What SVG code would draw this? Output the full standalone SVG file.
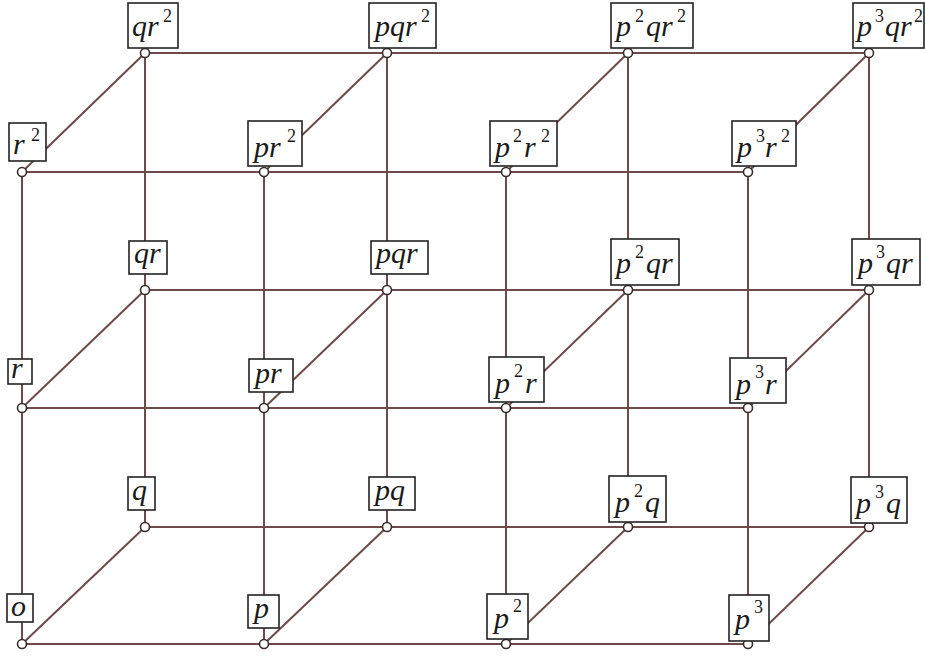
<svg xmlns="http://www.w3.org/2000/svg" width="925" height="659" viewBox="0 0 925 659">
<style>
.e{stroke:#6e4a4a;stroke-width:2;fill:none;stroke-linecap:round}
.b{fill:#fff;stroke:#222;stroke-width:1.6}
.c{fill:#fff;stroke:#3b2b2b;stroke-width:1.6}
.t{font-family:"Liberation Serif","Times New Roman",serif;font-style:italic;font-size:30px;fill:#1a1a1a}
.s{font-family:"Liberation Serif","Times New Roman",serif;font-style:normal;font-size:18px;fill:#1a1a1a}
</style>
<rect width="925" height="659" fill="#fff"/>
<g id="connectors">
<line class="e" x1="22" y1="644" x2="264" y2="644"/><line class="e" x1="264" y1="644" x2="506" y2="644"/><line class="e" x1="506" y1="644" x2="748" y2="644"/>
<line class="e" x1="22" y1="408" x2="264" y2="408"/><line class="e" x1="264" y1="408" x2="506" y2="408"/><line class="e" x1="506" y1="408" x2="748" y2="408"/>
<line class="e" x1="22" y1="172" x2="264" y2="172"/><line class="e" x1="264" y1="172" x2="506" y2="172"/><line class="e" x1="506" y1="172" x2="748" y2="172"/>
<line class="e" x1="145" y1="527" x2="387" y2="527"/><line class="e" x1="387" y1="527" x2="628" y2="527"/><line class="e" x1="628" y1="527" x2="869" y2="527"/>
<line class="e" x1="145" y1="290" x2="387" y2="290"/><line class="e" x1="387" y1="290" x2="628" y2="290"/><line class="e" x1="628" y1="290" x2="869" y2="290"/>
<line class="e" x1="145" y1="53" x2="387" y2="53"/><line class="e" x1="387" y1="53" x2="628" y2="53"/><line class="e" x1="628" y1="53" x2="869" y2="53"/>
<line class="e" x1="22" y1="644" x2="22" y2="408"/><line class="e" x1="22" y1="408" x2="22" y2="172"/>
<line class="e" x1="264" y1="644" x2="264" y2="408"/><line class="e" x1="264" y1="408" x2="264" y2="172"/>
<line class="e" x1="506" y1="644" x2="506" y2="408"/><line class="e" x1="506" y1="408" x2="506" y2="172"/>
<line class="e" x1="748" y1="644" x2="748" y2="408"/><line class="e" x1="748" y1="408" x2="748" y2="172"/>
<line class="e" x1="145" y1="527" x2="145" y2="290"/><line class="e" x1="145" y1="290" x2="145" y2="53"/>
<line class="e" x1="387" y1="527" x2="387" y2="290"/><line class="e" x1="387" y1="290" x2="387" y2="53"/>
<line class="e" x1="628" y1="527" x2="628" y2="290"/><line class="e" x1="628" y1="290" x2="628" y2="53"/>
<line class="e" x1="869" y1="527" x2="869" y2="290"/><line class="e" x1="869" y1="290" x2="869" y2="53"/>
<line class="e" x1="22" y1="644" x2="145" y2="527"/><line class="e" x1="264" y1="644" x2="387" y2="527"/>
<line class="e" x1="506" y1="644" x2="628" y2="527"/><line class="e" x1="748" y1="644" x2="869" y2="527"/>
<line class="e" x1="22" y1="408" x2="145" y2="290"/><line class="e" x1="264" y1="408" x2="387" y2="290"/>
<line class="e" x1="506" y1="408" x2="628" y2="290"/><line class="e" x1="748" y1="408" x2="869" y2="290"/>
<line class="e" x1="22" y1="172" x2="145" y2="53"/><line class="e" x1="264" y1="172" x2="387" y2="53"/>
<line class="e" x1="506" y1="172" x2="628" y2="53"/><line class="e" x1="748" y1="172" x2="869" y2="53"/>
</g>
<g id="n-o"><circle class="c" cx="22" cy="644" r="4.5"/><rect class="b" x="7" y="594" width="26" height="28"/><text class="t" x="11" y="616">o</text></g>
<g id="n-p"><circle class="c" cx="264" cy="644" r="4.5"/><rect class="b" x="248" y="595" width="31" height="33"/><text class="t" x="254" y="618">p</text></g>
<g id="n-p2"><circle class="c" cx="506" cy="644" r="4.5"/><rect class="b" x="487" y="594" width="41" height="45"/><text class="t" x="494" y="628">p</text><text class="s" x="513" y="612">2</text></g>
<g id="n-p3"><circle class="c" cx="748" cy="644" r="4.5"/><rect class="b" x="729" y="595" width="40" height="46"/><text class="t" x="735" y="629">p</text><text class="s" x="754" y="613">3</text></g>
<g id="n-r"><circle class="c" cx="22" cy="408" r="4.5"/><rect class="b" x="8" y="359" width="24" height="25"/><text class="t" x="11" y="378">r</text></g>
<g id="n-pr"><circle class="c" cx="264" cy="408" r="4.5"/><rect class="b" x="249" y="359" width="44" height="33"/><text class="t" x="255" y="383">pr</text></g>
<g id="n-p2r"><circle class="c" cx="506" cy="408" r="4.5"/><rect class="b" x="489" y="357" width="55" height="45"/><text class="t" x="495" y="393">p</text><text class="s" x="514" y="377">2</text><text class="t" x="525" y="393">r</text></g>
<g id="n-p3r"><circle class="c" cx="748" cy="408" r="4.5"/><rect class="b" x="730" y="358" width="56" height="45"/><text class="t" x="736" y="394">p</text><text class="s" x="755" y="378">3</text><text class="t" x="765" y="394">r</text></g>
<g id="n-r2"><circle class="c" cx="22" cy="172" r="4.5"/><rect class="b" x="9" y="123" width="37" height="38"/><text class="t" x="13" y="154">r</text><text class="s" x="31" y="141">2</text></g>
<g id="n-pr2"><circle class="c" cx="264" cy="172" r="4.5"/><rect class="b" x="248" y="121" width="54" height="45"/><text class="t" x="254" y="157">pr</text><text class="s" x="287" y="142">2</text></g>
<g id="n-p2r2"><circle class="c" cx="506" cy="172" r="4.5"/><rect class="b" x="490" y="121" width="67" height="45"/><text class="t" x="495" y="157">p</text><text class="s" x="513" y="142">2</text><text class="t" x="524" y="157">r</text><text class="s" x="541" y="142">2</text></g>
<g id="n-p3r2"><circle class="c" cx="748" cy="172" r="4.5"/><rect class="b" x="732" y="121" width="64" height="45"/><text class="t" x="737" y="157">p</text><text class="s" x="756" y="142">3</text><text class="t" x="765" y="157">r</text><text class="s" x="781" y="142">2</text></g>
<g id="n-q"><circle class="c" cx="145" cy="527" r="4.5"/><rect class="b" x="128" y="477" width="27" height="33"/><text class="t" x="132" y="500">q</text></g>
<g id="n-pq"><circle class="c" cx="387" cy="527" r="4.5"/><rect class="b" x="369" y="477" width="46" height="33"/><text class="t" x="375" y="500">pq</text></g>
<g id="n-p2q"><circle class="c" cx="628" cy="527" r="4.5"/><rect class="b" x="609" y="476" width="57" height="46"/><text class="t" x="615" y="512">p</text><text class="s" x="634" y="497">2</text><text class="t" x="645" y="512">q</text></g>
<g id="n-p3q"><circle class="c" cx="869" cy="527" r="4.5"/><rect class="b" x="851" y="477" width="56" height="46"/><text class="t" x="856" y="513">p</text><text class="s" x="875" y="498">3</text><text class="t" x="886" y="513">q</text></g>
<g id="n-qr"><circle class="c" cx="145" cy="290" r="4.5"/><rect class="b" x="129" y="241" width="38" height="33"/><text class="t" x="134" y="263">qr</text></g>
<g id="n-pqr"><circle class="c" cx="387" cy="290" r="4.5"/><rect class="b" x="371" y="241" width="57" height="33"/><text class="t" x="376" y="263">pqr</text></g>
<g id="n-p2qr"><circle class="c" cx="628" cy="290" r="4.5"/><rect class="b" x="611" y="239" width="68" height="46"/><text class="t" x="616" y="273">p</text><text class="s" x="635" y="258">2</text><text class="t" x="646" y="273">qr</text></g>
<g id="n-p3qr"><circle class="c" cx="869" cy="290" r="4.5"/><rect class="b" x="852" y="239" width="68" height="46"/><text class="t" x="858" y="273">p</text><text class="s" x="876" y="258">3</text><text class="t" x="886" y="273">qr</text></g>
<g id="n-qr2"><circle class="c" cx="145" cy="53" r="4.5"/><rect class="b" x="128" y="3" width="50" height="45"/><text class="t" x="132" y="36">qr</text><text class="s" x="163" y="22">2</text></g>
<g id="n-pqr2"><circle class="c" cx="387" cy="53" r="4.5"/><rect class="b" x="369" y="3" width="67" height="45"/><text class="t" x="375" y="36">pqr</text><text class="s" x="421" y="22">2</text></g>
<g id="n-p2qr2"><circle class="c" cx="628" cy="53" r="4.5"/><rect class="b" x="611" y="3" width="82" height="45"/><text class="t" x="616" y="36">p</text><text class="s" x="635" y="22">2</text><text class="t" x="646" y="36">qr</text><text class="s" x="677" y="22">2</text></g>
<g id="n-p3qr2"><circle class="c" cx="869" cy="53" r="4.5"/><rect class="b" x="853" y="3" width="71" height="45"/><text class="t" x="857" y="36">p</text><text class="s" x="875" y="22">3</text><text class="t" x="885" y="36">qr</text><text class="s" x="914" y="22">2</text></g>
</svg>
